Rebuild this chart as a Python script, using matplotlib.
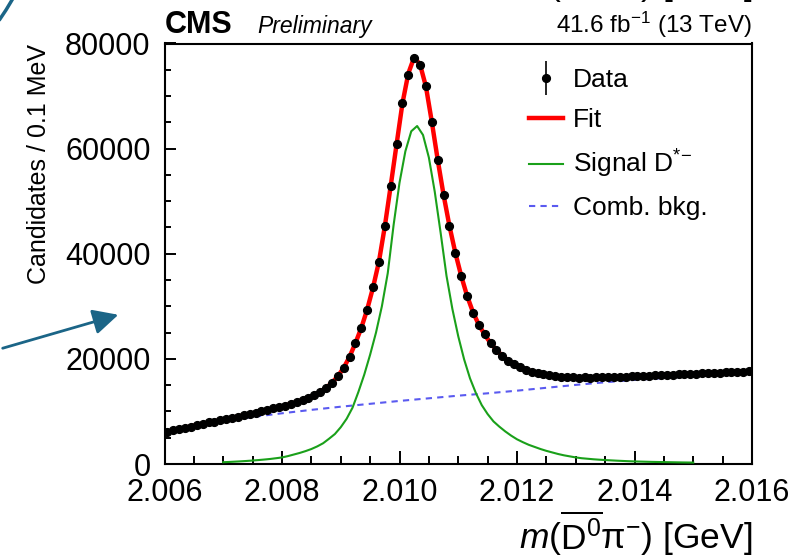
import numpy as np
import matplotlib
matplotlib.use("Agg")
import matplotlib.pyplot as plt
from matplotlib.lines import Line2D
from matplotlib.patches import FancyArrowPatch
from matplotlib.container import ErrorbarContainer
from matplotlib.legend_handler import HandlerErrorbar
from matplotlib.ticker import MultipleLocator, FormatStrFormatter

plt.rcParams['font.family'] = ['Liberation Sans', 'DejaVu Sans']
plt.rcParams['mathtext.fontset'] = 'custom'
plt.rcParams['mathtext.rm'] = 'Liberation Sans'
plt.rcParams['mathtext.it'] = 'Liberation Sans:italic'
plt.rcParams['mathtext.bf'] = 'Liberation Sans:bold'

# Binning: 100 bins of 0.1 MeV between 2.006 and 2.016 GeV
bin_edges = np.linspace(2.006, 2.016, 101)
bin_centers = 0.5 * (bin_edges[:-1] + bin_edges[1:])

# Candidates per bin
data_counts = [
    6100, 6420, 6650, 6930, 7130, 7420, 7640, 7900, 8080, 8350,
    8540, 8800, 9000, 9280, 9480, 9760, 10020, 10250, 10560, 10790,
    11120, 11400, 11800, 12130, 12620, 13100, 13760, 14450, 15480, 16720,
    18280, 20420, 22980, 25900, 29350, 33600, 38400, 45300, 52950, 60900,
    68700, 74100, 77300, 75900, 71900, 65100, 57800, 51100, 45300, 40100,
    35800, 32000, 28800, 26500, 24700, 23000, 21700, 20600, 19650, 19000,
    18400, 17950, 17580, 17320, 17030, 16870, 16680, 16620, 16500, 16480,
    16430, 16470, 16420, 16500, 16490, 16560, 16530, 16640, 16620, 16720,
    16730, 16800, 16790, 16880, 16900, 16950, 17020, 17040, 17120, 17140,
    17210, 17230, 17290, 17350, 17360, 17440, 17480, 17500, 17580, 17700,
]

# Total fit evaluated at the range ends and at every bin centre
fit_x = np.concatenate(([2.006], bin_centers, [2.016]))
fit_y = [
    6050,
    6150, 6400, 6650, 6900, 7150, 7400, 7650, 7880, 8100, 8330,
    8560, 8790, 9020, 9260, 9500, 9750, 10000, 10260, 10530, 10810,
    11100, 11420, 11770, 12160, 12600, 13120, 13730, 14480, 15450, 16700,
    18300, 20400, 23000, 25900, 29400, 33600, 38500, 45200, 52900, 60800,
    68600, 74300, 77400, 76000, 71800, 65100, 57900, 51200, 45300, 40200,
    35800, 32000, 28900, 26500, 24600, 23000, 21700, 20600, 19700, 19000,
    18400, 17950, 17600, 17300, 17050, 16850, 16700, 16600, 16520, 16470,
    16450, 16450, 16460, 16480, 16510, 16540, 16580, 16620, 16660, 16700,
    16740, 16780, 16830, 16870, 16920, 16960, 17010, 17050, 17100, 17150,
    17190, 17240, 17290, 17330, 17380, 17430, 17480, 17520, 17570, 17620,
    17650,
]

# Signal D*- component, 2.0070 ... 2.0150 GeV in 0.1 MeV steps
signal_x = np.linspace(2.0070, 2.0150, 81)
signal_y = [
    340, 390, 450, 510, 580, 660, 750, 850, 960, 1100,
    1250, 1500, 1800, 2100, 2450, 2850, 3350, 3950, 4800, 5700,
    7000, 8600, 10700, 13700, 17000, 20800, 25000, 30000, 36300, 45500,
    53500, 59500, 63300, 64300, 62600, 58300, 51800, 44000, 35800, 29500,
    24300, 19900, 16300, 13500, 11200, 9500, 8100, 7100, 6200, 5400,
    4700, 4150, 3650, 3250, 2850, 2500, 2200, 1900, 1650, 1450,
    1250, 1100, 1000, 900, 820, 750, 690, 630, 580, 530,
    490, 460, 430, 400, 380, 360, 340, 320, 300, 285,
    270,
]

# Combinatorial background component
bkg_x = np.linspace(2.006, 2.016, 21)
bkg_y = [
    6100, 7300, 8200, 8950, 9650, 10300, 10900, 11450, 12000, 12500,
    13000, 13450, 13950, 14500, 15050, 15550, 16000, 16350, 16700, 17050,
    17400,
]

xlabel_text = r'$\mathit{m}(\overline{\mathrm{D}^{0}}\mathrm{\pi}^{-})$ [GeV]'

W, H = 794, 558
fig = plt.figure(figsize=(W / 100, H / 100), dpi=100)
ax_l, ax_r, ax_t, ax_b = 164.5, 752, 43.5, 464
ax = fig.add_axes([ax_l / W, 1 - ax_b / H, (ax_r - ax_l) / W, (ax_b - ax_t) / H])

ax.plot(bkg_x, bkg_y, color='#5a5af0', lw=1.5, ls=(0, (3, 2.5)), zorder=2,
        label='Comb. bkg.')
ax.plot(signal_x, signal_y, color='#1aa01a', lw=1.5, zorder=3,
        label=r'Signal D$^{*\!-}$')
ax.plot(fit_x, fit_y, color='#ff0000', lw=3.2, zorder=4, label='Fit')
counts = np.asarray(data_counts, dtype=float)
ax.errorbar(bin_centers, counts, yerr=np.sqrt(counts), fmt='o', color='black',
            ms=5.6, elinewidth=1.2, capsize=0, zorder=5, label='Data')

ax.set_xlim(2.006, 2.016)
ax.set_ylim(0, 80000)
ax.xaxis.set_major_locator(MultipleLocator(0.002))
ax.xaxis.set_minor_locator(MultipleLocator(0.0005))
ax.xaxis.set_major_formatter(FormatStrFormatter('%.3f'))
ax.yaxis.set_major_locator(MultipleLocator(20000))
ax.yaxis.set_minor_locator(MultipleLocator(5000))
ax.tick_params(which='both', direction='in', top=False, right=False,
               width=1.4, labelsize=22)
ax.tick_params(axis='x', which='major', length=9.5, pad=10)
ax.tick_params(axis='x', which='minor', length=5.5)
ax.tick_params(axis='y', which='major', length=8, pad=10)
ax.tick_params(axis='y', which='minor', length=4.5)
for sp in ax.spines.values():
    sp.set_linewidth(1.5)

ax.set_xlabel(xlabel_text, fontsize=25.5, ha='right', va='baseline')
ax.xaxis.set_label_coords(1.0, (ax_b - 549) / (ax_b - ax_t))
ax.set_ylabel('Candidates / 0.1 MeV', fontsize=18, ha='center', va='top',
              rotation_mode='default')
ax.yaxis.set_label_coords((39 - ax_l) / (ax_r - ax_l), 1.0)

handles, labels = ax.get_legend_handles_labels()
order = ['Data', 'Fit', r'Signal D$^{*\!-}$', 'Comb. bkg.']
hmap = dict(zip(labels, handles))
ax.legend([hmap[k] for k in order], order, loc='upper left',
          bbox_to_anchor=((529 - ax_l) / (ax_r - ax_l), 0.941),
          frameon=False, fontsize=19, handlelength=1.3, handletextpad=0.35,
          labelspacing=0.6, borderpad=0, borderaxespad=0,
          handler_map={ErrorbarContainer: HandlerErrorbar(yerr_size=0.65)})

# Header texts
fig.text(ax_l / W, 1 - 33 / H, 'CMS', fontsize=22, fontweight='bold',
         ha='left', va='baseline')
fig.text(257 / W, 1 - 33 / H, 'Preliminary', fontsize=16.5, style='italic',
         ha='left', va='baseline')
fig.text(ax_r / W, 1 - 33 / H, r'41.6 fb$^{-1}$ (13 TeV)', fontsize=17.5,
         ha='right', va='baseline')

# Axis title of the panel above, cut by the top edge
fig.text(ax_r / W, 1 + 4 / H, xlabel_text, fontsize=25.5, ha='right',
         va='baseline')

# Slide annotations
accent = '#1b6587'
fig.add_artist(FancyArrowPatch((0, 1 - 349 / H), (121 / W, 1 - 314 / H),
                               transform=fig.transFigure,
                               arrowstyle='-|>,head_length=1.1,head_width=0.55',
                               mutation_scale=14, color=accent, lw=2))
fig.add_artist(Line2D([0 / W, 6 / W, 12 / W], [1 - 19 / H, 1 - 10 / H, 1 - 0 / H],
                      transform=fig.transFigure, color=accent, lw=2.5))

fig.savefig('out.png', dpi=100)
